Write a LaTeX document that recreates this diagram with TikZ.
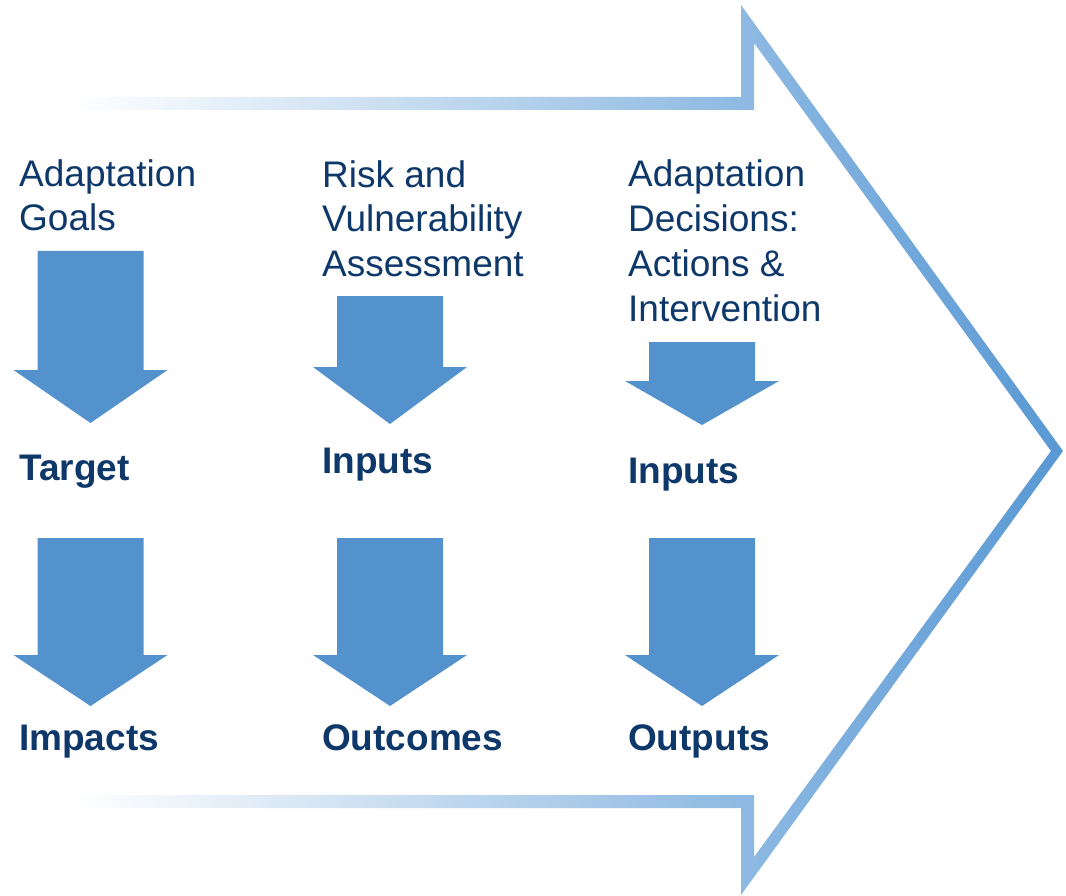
\documentclass[tikz,border=0pt]{standalone}
\usepackage{fontspec}
\setmainfont{Liberation Sans}
\definecolor{navy}{RGB}{14,56,106}
\definecolor{arrblue}{RGB}{84,146,205}
\definecolor{frameblue}{RGB}{88,152,212}
\newcommand\blockdown[4]{% cx, top, head, tip
  \fill[arrblue] (#1-53,#2) -- (#1+53,#2) -- (#1+53,#3) -- (#1+77,#3) -- (#1,#4) -- (#1-77,#3) -- (#1-53,#3) -- cycle;}
\begin{document}
\begin{tikzpicture}[x=1pt,y=-1pt,
  lbl/.style={anchor=base west, inner sep=0pt, text=navy, align=left, font=\fontsize{37}{44.7}\selectfont},
  blbl/.style={lbl, font=\fontsize{37}{44.7}\selectfont\bfseries}]
\useasboundingbox (0,0) rectangle (1066,896);
% big outline arrow
\shade[even odd rule, left color=white, right color=frameblue]
  (73,97) -- (741,97) -- (741,5) -- (1063,451) -- (741,895) -- (741,808) -- (73,808) -- cycle
  (73,795) -- (754,795) -- (754,857) -- (1051,451) -- (754,43) -- (754,110) -- (73,110) -- cycle;
% block arrows
\blockdown{90.5}{251}{370}{423}
\blockdown{90.5}{538}{655}{706}
\blockdown{390}{296}{367}{424}
\blockdown{390}{538}{655}{706}
\blockdown{702}{342}{381}{425}
\blockdown{702}{538}{655}{706}
% texts (base anchor = last line)
\node[lbl] (goals) at (19,231) {Adaptation\\Goals};
\node[lbl] (risk) at (322,276.5) {Risk and\\Vulnerability\\Assessment};
\node[lbl] (dec) at (628,321) {Adaptation\\Decisions:\\Actions \&\\Intervention};
\node[blbl] (target) at (19,480) {Target};
\node[blbl] (in1) at (322,473) {Inputs};
\node[blbl] (in2) at (628,483) {Inputs};
\node[blbl] (imp) at (19,750) {Impacts};
\node[blbl] (outc) at (322,750) {Outcomes};
\node[blbl] (outp) at (628,750) {Outputs};
\end{tikzpicture}
\end{document}
